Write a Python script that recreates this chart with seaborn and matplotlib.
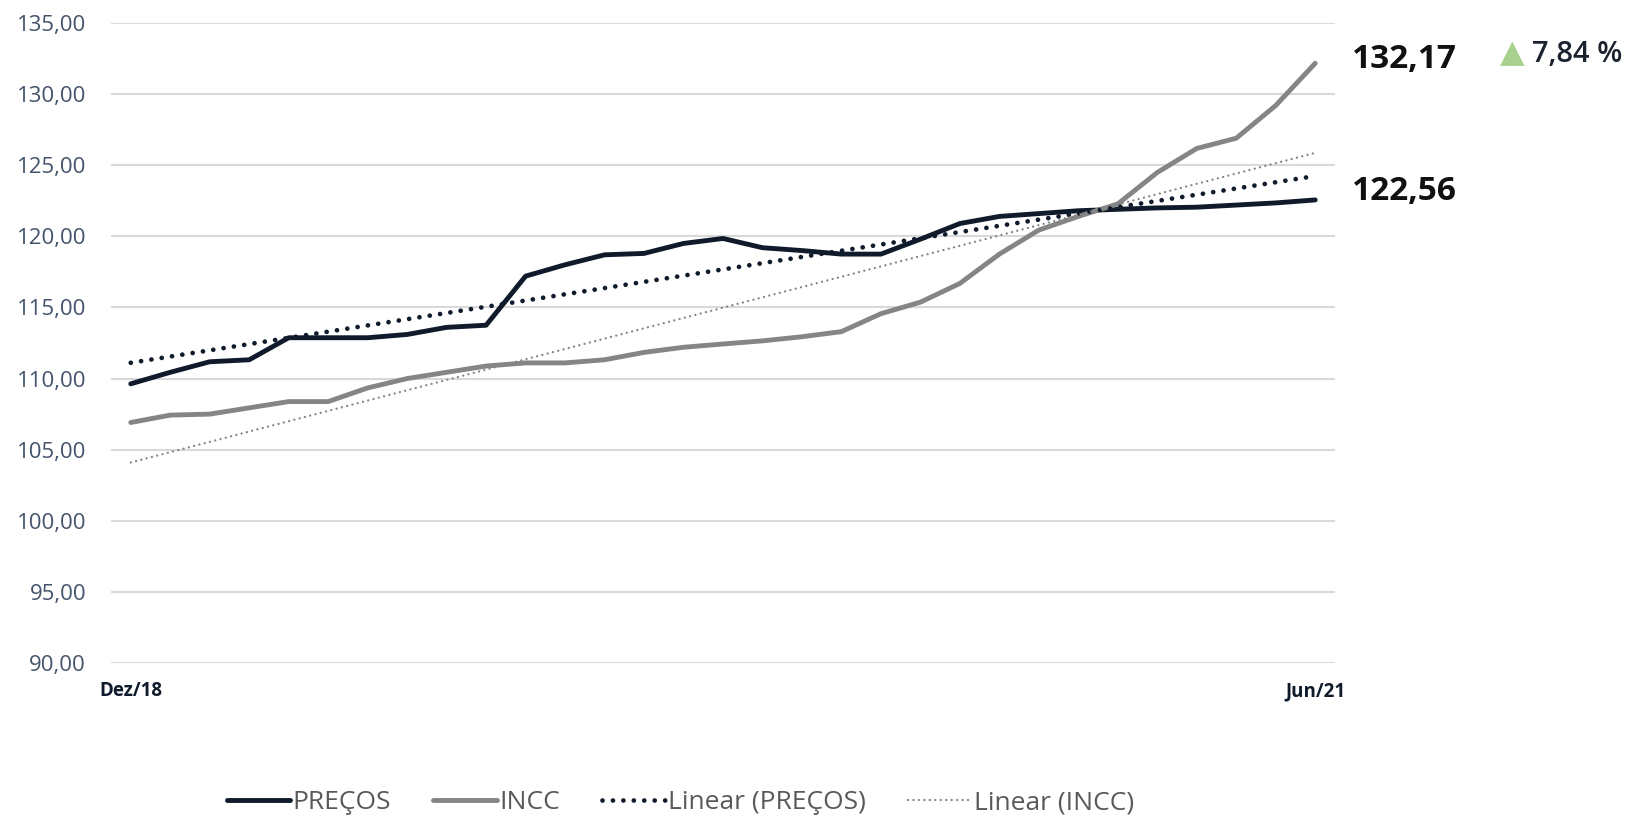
import numpy as np
import pandas as pd
import matplotlib
matplotlib.use("Agg")
import matplotlib.pyplot as plt
import seaborn as sns

sns.set_theme(style="white")
plt.rcParams['font.family'] = ['Open Sans', 'DejaVu Sans']

precos = [109.63, 110.44, 111.18, 111.32, 112.87, 112.87, 112.87, 113.10, 113.60, 113.75,
          117.20, 118.00, 118.70, 118.80, 119.50, 119.85, 119.20, 119.00, 118.75, 118.75,
          119.80, 120.90, 121.40, 121.60, 121.80, 121.90, 122.00, 122.05, 122.20, 122.35,
          122.56]
incc = [106.91, 107.43, 107.50, 107.94, 108.38, 108.38, 109.34, 110.00, 110.44, 110.88,
        111.10, 111.10, 111.32, 111.84, 112.20, 112.43, 112.65, 112.94, 113.30, 114.56,
        115.37, 116.69, 118.75, 120.44, 121.40, 122.28, 124.49, 126.18, 126.90, 129.20,
        132.17]
x_ticklabels = ["Dez/18", "Jun/21"]
y_ticks = [90, 95, 100, 105, 110, 115, 120, 125, 130, 135]
label_precos = "122,56"
label_incc = "132,17"
variacao = "7,84 %"

df = pd.DataFrame({"mes": np.arange(len(precos)), "PREÇOS": precos, "INCC": incc})

c_precos = "#0F1A2B"
c_incc = "#858585"

fig = plt.figure(figsize=(16.4, 8.19), dpi=100)
ax = fig.add_axes([0.0677, 0.1905, 0.7463, 0.7814])

sns.lineplot(data=df, x="mes", y="PREÇOS", ax=ax, color=c_precos, lw=3.5,
             solid_capstyle="round", label="PREÇOS")
sns.lineplot(data=df, x="mes", y="INCC", ax=ax, color=c_incc, lw=3.5,
             solid_capstyle="round", label="INCC")
sns.regplot(data=df, x="mes", y="PREÇOS", ax=ax, scatter=False, ci=None, truncate=True,
            label="Linear (PREÇOS)",
            line_kws=dict(color=c_precos, lw=3.4, linestyle=(0, (0.01, 2.2)),
                          dash_capstyle="round"))
sns.regplot(data=df, x="mes", y="INCC", ax=ax, scatter=False, ci=None, truncate=True,
            label="Linear (INCC)",
            line_kws=dict(color=c_incc, lw=1.7, linestyle=(0, (0.01, 2.3)),
                          dash_capstyle="round"))

ax.set_xlim(-0.5, 30.5)
ax.set_ylim(90, 135)
ax.set_yticks(y_ticks)
ax.set_yticklabels([f"{v:.2f}".replace(".", ",") for v in y_ticks],
                   color="#44546A", fontsize=16)
ax.set_xticks([0, len(precos) - 1])
ax.set_xticklabels(x_ticklabels, fontweight="bold", fontsize=13.5, color="#0F1A2B")
ax.tick_params(axis="x", pad=13, length=0)
ax.tick_params(axis="y", pad=18, length=0)
ax.set_xlabel("")
ax.set_ylabel("")
ax.grid(axis="y", color="#D9D9D9", lw=1.5)
ax.set_axisbelow(True)
sns.despine(ax=ax, left=True, bottom=True)

# valores finais e variacao
ax.annotate(label_incc, xy=(len(incc) - 1, incc[-1]), xytext=(1352 / 1640, 1 - 60 / 819),
            textcoords="figure fraction", fontsize=24, fontweight="bold",
            color="#111111", va="center", ha="left")
ax.annotate(label_precos, xy=(len(precos) - 1, precos[-1]), xytext=(1352 / 1640, 1 - 191 / 819),
            textcoords="figure fraction", fontsize=24, fontweight="bold",
            color="#111111", va="center", ha="left")
fig.text(1512 / 1640, 1 - 54 / 819, "▲", color="#A9D18E", fontsize=23,
         ha="center", va="center", family=["DejaVu Sans"])
fig.text(1532 / 1640, 1 - 54 / 819, variacao, color="#1A2230", fontsize=21,
         fontweight="semibold", ha="left", va="center")

ax.legend(loc="center", bbox_to_anchor=(0.415, 0.02), bbox_transform=fig.transFigure,
          ncol=4, frameon=False, fontsize=19, handlelength=2.4, columnspacing=1.6,
          handletextpad=0.1, labelcolor="#595959")

fig.savefig("out.png", dpi=100, facecolor="white")
